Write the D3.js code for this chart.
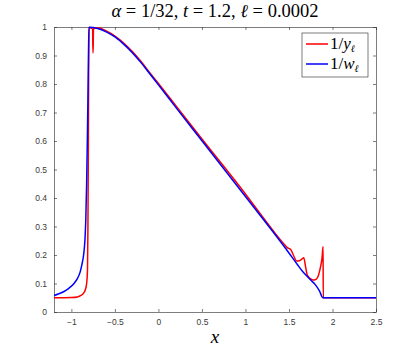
<!DOCTYPE html>
<html>
<head>
<meta charset="utf-8">
<script src="https://cdn.jsdelivr.net/npm/d3@7"></script>
<style>
  body { margin: 0; background: #fff; }
  text { font-family: "Liberation Sans", Arial, sans-serif; }
</style>
</head>
<body>
<div id="chart"></div>
<script>
// curve 1/w_l (blue)
var wx = [-1.2, -1.15, -1.09, -1.03, -0.97, -0.93, -0.9, -0.88, -0.86, -0.845, -0.835, -0.825, -0.817, -0.81, -0.804, -0.798, -0.7, -0.6, -0.5, -0.4, -0.3, -0.2, -0.1, 0, 0.2, 0.5, 1.0, 1.5, 1.6, 1.65, 1.7, 1.75, 1.8, 1.85, 1.891, 2.5];
var wy = [0.058, 0.063, 0.071, 0.083, 0.1, 0.118, 0.14, 0.165, 0.2, 0.25, 0.32, 0.45, 0.6, 0.75, 0.9, 0.999, 0.995, 0.983, 0.965, 0.94, 0.91, 0.875, 0.836, 0.797, 0.718, 0.601, 0.405, 0.207, 0.165, 0.145, 0.128, 0.112, 0.097, 0.074, 0.05, 0.05];
// curve 1/y_l (red)
var yx = [-1.2, -1.0, -0.93, -0.89, -0.86, -0.84, -0.825, -0.815, -0.81, -0.805, -0.8, -0.797, -0.756, -0.753, -0.75, -0.747, -0.7, -0.6, -0.5, -0.4, -0.3, -0.2, -0.1, 0, 0.2, 0.5, 1.0, 1.2, 1.4, 1.45, 1.48, 1.52, 1.55, 1.59, 1.62, 1.65, 1.67, 1.69, 1.71, 1.75, 1.78, 1.8, 1.83, 1.86, 1.88, 1.892, 1.894, 2.5];
var yy = [0.05, 0.051, 0.053, 0.058, 0.066, 0.078, 0.1, 0.15, 0.3, 0.6, 0.95, 0.998, 0.993, 0.91, 0.91, 0.993, 0.997, 0.986, 0.968, 0.944, 0.914, 0.879, 0.84, 0.802, 0.724, 0.607, 0.414, 0.333, 0.254, 0.236, 0.226, 0.219, 0.2, 0.179, 0.18, 0.186, 0.19, 0.16, 0.13, 0.116, 0.112, 0.113, 0.122, 0.155, 0.19, 0.23, 0.05, 0.05];
var xticks = [-1, -0.5, 0, 0.5, 1, 1.5, 2, 2.5];
var yticks = [0, 0.1, 0.2, 0.3, 0.4, 0.5, 0.6, 0.7, 0.8, 0.9, 1];

var margin = {top: 27, right: 39, bottom: 39, left: 54},
    width = 415 - margin.left - margin.right,
    height = 351 - margin.top - margin.bottom;

var svg = d3.select("#chart")
  .append("svg")
    .attr("width", 415)
    .attr("height", 351)
  .append("g")
    .attr("transform", "translate(" + margin.left + "," + margin.top + ")");

var x = d3.scaleLinear().domain([-1.2, 2.5]).range([0, width]);
var y = d3.scaleLinear().domain([0, 1]).range([height, 0]);

function tickFmt(d) { return d3.format("")(d); }

var axCol = "#262626";
function styleAxis(g, hide) {
  g.select(".domain").attr("stroke", axCol).attr("stroke-width", 0.6);
  g.selectAll(".tick line").attr("stroke", axCol).attr("stroke-width", 0.6);
  g.selectAll(".tick text").attr("fill", "#3a3a3a").style("font-size", "8.5px");
  if (hide) g.selectAll(".tick text").remove();
}

svg.append("g")
  .attr("transform", "translate(0," + height + ")")
  .call(d3.axisBottom(x).tickValues(xticks).tickFormat(tickFmt).tickSizeInner(-3).tickSizeOuter(0).tickPadding(7))
  .call(styleAxis, false);
svg.append("g")
  .call(d3.axisTop(x).tickValues(xticks).tickSizeInner(-3).tickSizeOuter(0))
  .call(styleAxis, true);
svg.append("g")
  .call(d3.axisLeft(y).tickValues(yticks).tickFormat(tickFmt).tickSizeInner(-3).tickSizeOuter(0).tickPadding(7))
  .call(styleAxis, false);
svg.append("g")
  .attr("transform", "translate(" + width + ",0)")
  .call(d3.axisRight(y).tickValues(yticks).tickSizeInner(-3).tickSizeOuter(0))
  .call(styleAxis, true);

var line = d3.line()
  .curve(d3.curveMonotoneX)
  .x(function(d) { return x(d[0]); })
  .y(function(d) { return y(d[1]); });

svg.append("path")
  .datum(d3.zip(yx, yy))
  .attr("fill", "none")
  .attr("stroke", "#ff0000")
  .attr("stroke-width", 1.5)
  .attr("stroke-linejoin", "round")
  .attr("d", line);
svg.append("path")
  .datum(d3.zip(wx, wy))
  .attr("fill", "none")
  .attr("stroke", "#0000ff")
  .attr("stroke-width", 1.5)
  .attr("stroke-linejoin", "round")
  .attr("d", line);

// title
var title = svg.append("text")
  .attr("x", width / 2)
  .attr("y", -10)
  .style("text-anchor", "middle")
  .style("font-family", "'Liberation Serif', 'DejaVu Serif', serif")
  .style("font-size", "18.5px")
  .attr("fill", "#000");
title.append("tspan").style("font-style", "italic").text("α");
title.append("tspan").text(" = 1/32, ");
title.append("tspan").style("font-style", "italic").text("t");
title.append("tspan").text(" = 1.2, ");
title.append("tspan").style("font-style", "italic").text("ℓ");
title.append("tspan").text(" = 0.0002");

// x label
svg.append("text")
  .attr("x", width / 2)
  .attr("y", height + 31)
  .style("text-anchor", "middle")
  .style("font-family", "'Liberation Serif', 'DejaVu Serif', serif")
  .style("font-style", "italic")
  .style("font-size", "19px")
  .text("x");

// legend
var lg = svg.append("g").attr("transform", "translate(" + (302 - margin.left) + "," + (33 - margin.top) + ")");
lg.append("rect")
  .attr("width", 66).attr("height", 44)
  .attr("fill", "#fff")
  .attr("stroke", axCol).attr("stroke-width", 0.6);
var entries = [["y", "#ff0000", 11], ["w", "#0000ff", 31]];
entries.forEach(function(e) {
  lg.append("line")
    .attr("x1", 4).attr("x2", 26)
    .attr("y1", e[2]).attr("y2", e[2])
    .attr("stroke", e[1]).attr("stroke-width", 1.5);
  var t = lg.append("text")
    .attr("x", 28).attr("y", e[2] + 5)
    .style("font-family", "'Liberation Serif', 'DejaVu Serif', serif")
    .style("font-size", "17px");
  t.append("tspan").text("1/");
  t.append("tspan").style("font-style", "italic").text(e[0]);
  t.append("tspan").style("font-style", "italic").style("font-size", "10px").attr("dy", 3).text("ℓ");
});
</script>
</body>
</html>
